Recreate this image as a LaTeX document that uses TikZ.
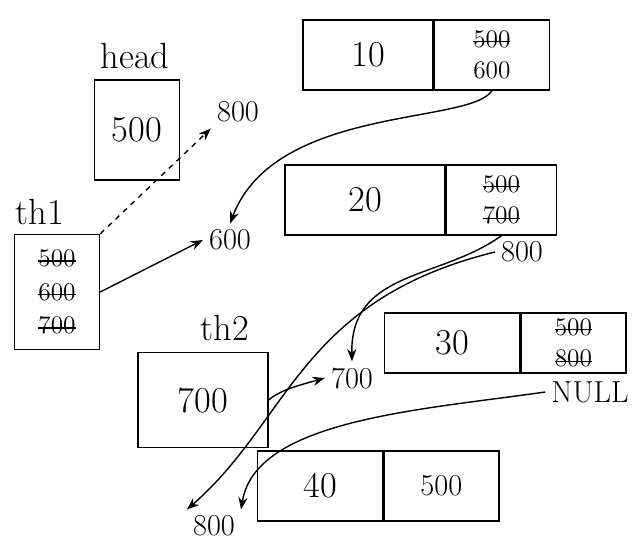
\documentclass[tikz,border=0pt]{standalone}
\usetikzlibrary{arrows.meta,positioning}

\newsavebox{\strbox}
\newcommand{\struck}[1]{\sbox{\strbox}{#1}\rlap{\raisebox{0.45ex}{\rule{\wd\strbox}{0.8pt}}}\usebox{\strbox}}

\tikzset{
  datacell/.style={draw, thick, minimum height=1.4cm, font=\huge},
  nextcell/.style={draw, thick, minimum height=1.4cm, font=\Large, align=center, inner sep=2pt},
  ptrcell/.style={draw, thick, font=\huge, align=center},
  addr/.style={font=\LARGE},
  varname/.style={font=\huge},
  link/.style={thick, -{Stealth[length=7pt]}},
}

\begin{document}
\begin{tikzpicture}[x=0.02cm, y=-0.02cm]
\useasboundingbox (0,0) rectangle (632,548);

% === pointers ===
\node[varname] (headlbl) at (135,56) {head};
\node[ptrcell, minimum width=1.7cm, minimum height=2.0cm] (headbox) at (137,130) {500};

\node[varname] (th1lbl) at (40,212) {th1};
\node[ptrcell, font=\Large, minimum width=1.7cm, minimum height=2.3cm, inner sep=3pt]
     (th1box) at (57,292) {\struck{500}\\[1pt]\struck{600}\\[1pt]\struck{700}};

\node[varname] (th2lbl) at (225,328) {th2};
\node[ptrcell, minimum width=2.6cm, minimum height=1.9cm] (th2box) at (203,400) {700};

% === node 10 ===
\node[datacell, minimum width=2.6cm] (n1d) at (368,55) {10};
\node[nextcell, minimum width=2.3cm, right=0pt of n1d] (n1n) {\struck{500}\\600};

% === node 20 ===
\node[datacell, minimum width=3.2cm] (n2d) at (365,200) {20};
\node[nextcell, minimum width=2.2cm, right=0pt of n2d] (n2n) {\struck{500}\\\struck{700}};
\node[addr] (n2new) at (522,252) {800};

% === node 30 ===
\node[datacell, minimum width=2.7cm, minimum height=1.2cm] (n3d) at (452,343) {30};
\node[nextcell, minimum width=2.1cm, minimum height=1.2cm, right=0pt of n3d] (n3n) {\struck{500}\\\struck{800}};
\node[addr] (n3null) at (590,392) {NULL};

% === node 40 ===
\node[datacell, minimum width=2.5cm] (n4d) at (320,486) {40};
\node[nextcell, font=\LARGE, minimum width=2.3cm, right=0pt of n4d] (n4n) {500};

% === addresses ===
\node[addr] (a800) at (238,112) {800};
\node[addr] (a600) at (230,240) {600};
\node[addr] (a700) at (352,378) {700};
\node[addr] (a800b) at (214,526) {800};

% === links ===
\draw[link, dashed] (th1box.north east) -- (a800.south west);
\draw[link] (th1box.east) -- (a600.west);
\draw[link] (n1n.south) .. controls (470,125) and (275,105) .. (a600.north);
\draw[link] (n2n.south) .. controls (440,280) and (350,270) .. (a700.north);
\draw[link] (th2box.east) .. controls (280,390) and (300,385) .. (a700.west);
\draw[link] (n2new.west) .. controls (300,300) and (290,420) .. (a800b.north west);
\draw[link] (n3null.west) .. controls (420,410) and (255,420) .. (a800b.north east);

\end{tikzpicture}
\end{document}
